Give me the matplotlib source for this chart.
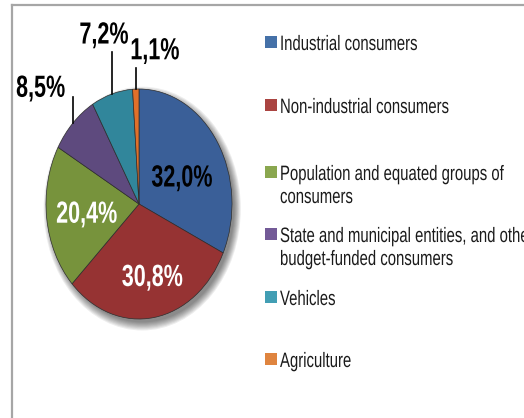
import matplotlib
matplotlib.use("Agg")
import matplotlib.pyplot as plt
from matplotlib.patches import Ellipse, Rectangle
from matplotlib.lines import Line2D
from matplotlib.font_manager import FontProperties
from matplotlib.patheffects import AbstractPathEffect
from matplotlib.transforms import Affine2D, ScaledTranslation, Bbox
from matplotlib.text import Text
import numpy as np

# ---- data ----
categories = ["Industrial consumers", "Non-industrial consumers",
              "Population and equated groups of consumers",
              "State and municipal entities, and other budget-funded consumers",
              "Vehicles", "Agriculture"]
legend_lines = [["Industrial consumers"], ["Non-industrial consumers"],
                ["Population and equated groups of", "consumers"],
                ["State and municipal entities, and othe", "budget-funded consumers"],
                ["Vehicles"], ["Agriculture"]]
values = [32.0, 30.8, 20.4, 8.5, 7.2, 1.1]
value_labels = ["32,0%", "30,8%", "20,4%", "8,5%", "7,2%", "1,1%"]

# ---- style ----
pie_colors = ["#3A5F98", "#963333", "#77933C", "#5E4A7E", "#31869B", "#E0702A"]
legend_colors = ["#4571A8", "#AA4441", "#8AA74F", "#735A97", "#429EB4", "#DF843F"]

fp_reg = FontProperties(family=["Liberation Sans", "DejaVu Sans"], weight="normal")
fp_bold = FontProperties(family=["Liberation Sans", "DejaVu Sans"], weight="bold")


class Squeeze(AbstractPathEffect):
    """Draw text horizontally condensed (narrow font look)."""

    def __init__(self, sx, anchor="left"):
        super().__init__()
        self.sx = sx
        self.anchor = anchor

    def draw_path(self, renderer, gc, tpath, affine, rgbFace=None):
        v = tpath.vertices
        x0 = 0.0
        if self.anchor == "center" and len(v):
            x0 = 0.5 * (v[:, 0].min() + v[:, 0].max())
        t = Affine2D().translate(-x0, 0).scale(self.sx, 1).translate(x0, 0)
        renderer.draw_path(gc, tpath, t + affine, rgbFace)


class NarrowText(Text):
    """Text drawn condensed; its reported extent matches the drawn glyphs."""

    def __init__(self, *args, sx=1.0, anchor="left", **kw):
        super().__init__(*args, **kw)
        self._sx = sx
        self._anchor = anchor
        self.set_path_effects([Squeeze(sx, anchor)])

    def get_window_extent(self, renderer=None, dpi=None):
        bb = super().get_window_extent(renderer, dpi)
        w = bb.width * self._sx
        if self._anchor == "center":
            cx = 0.5 * (bb.x0 + bb.x1)
            return Bbox([[cx - w / 2, bb.y0], [cx + w / 2, bb.y1]])
        return Bbox([[bb.x0, bb.y0], [bb.x0 + w, bb.y1]])


W, H = 524, 418
fig = plt.figure(figsize=(W / 100, H / 100), dpi=100)
fig.canvas.draw()
rend = fig.canvas.get_renderer()


def squeeze_factor(fp, size, sample, target_w):
    t = fig.text(0, 0, sample, fontproperties=fp, fontsize=size)
    wpx = t.get_window_extent(rend).width
    t.remove()
    return target_w / wpx


LEG_SIZE = 15.0
LAB_SIZE = 22.0
leg_sx = squeeze_factor(fp_reg, LEG_SIZE, "Industrial consumers", 138)
lab_sx = squeeze_factor(fp_bold, LAB_SIZE, "32,0%", 61)

# pie axes (elliptical, as in the reference)
ax = fig.add_axes([46 / W, (H - 319) / H, 186 / W, 230 / H])

# soft shadow
for s in np.linspace(1.06, 0.99, 8):
    ax.add_patch(Ellipse((0.035, -0.04), 2 * s, 2 * s, color="black",
                         alpha=0.07, lw=0, zorder=0, clip_on=False))

wedges, _ = ax.pie(values, colors=pie_colors, startangle=90, counterclock=False,
                   radius=1, wedgeprops=dict(edgecolor="#2e2e2e", linewidth=0.5))
for w in wedges:
    w.set_zorder(2)
    w.set_clip_on(False)
ax.set_aspect("auto")
ax.set_xlim(-1, 1)
ax.set_ylim(-1, 1)
ax.axis("off")

vals = np.array(values)
cum = np.cumsum(vals)
mid = np.deg2rad(90 - (cum - vals / 2) * 360 / vals.sum())

# label positions (axes data units, centre of the digits)
label_pos = [(0.462, 0.248), (0.145, -0.617), (-0.562, -0.067),
             (-1.056, 1.028), (-0.376, 1.491), (0.172, 1.354)]
label_col = ["black", "white", "white", "black", "black", "black"]
leader_top = {3: 0.930, 4: 1.322, 5: 1.183}

cap_off = ScaledTranslation(0, -0.36 * LAB_SIZE / 72, fig.dpi_scale_trans)
for i, (tx, ty) in enumerate(label_pos):
    ax.add_artist(NarrowText(tx, ty, value_labels[i], ha="center", va="baseline",
                             transform=ax.transData + cap_off,
                             fontproperties=fp_bold, fontsize=LAB_SIZE,
                             color=label_col[i], clip_on=False, zorder=5,
                             sx=lab_sx, anchor="center"))

for i, top in leader_top.items():
    x0, y0 = np.cos(mid[i]), np.sin(mid[i])
    ax.add_line(Line2D([x0, x0], [y0, top], color="black", lw=1.2,
                       zorder=4, clip_on=False))

# legend (manual, Excel-like spacing)
baselines = [[50], [113], [180, 203], [242, 265], [305], [367]]
for i, lines in enumerate(legend_lines):
    b0 = baselines[i][0]
    fig.add_artist(Rectangle((265 / W, 1 - (b0 - 2) / H), 12 / W, 12 / H,
                             transform=fig.transFigure, color=legend_colors[i], lw=0))
    for line, b in zip(lines, baselines[i]):
        fig.add_artist(NarrowText(280 / W, 1 - b / H, line, ha="left", va="baseline",
                                  transform=fig.transFigure,
                                  fontproperties=fp_reg, fontsize=LEG_SIZE,
                                  color="#1a1a1a", sx=leg_sx, anchor="left"))

# chart frame (top and left edges visible)
fig.add_artist(Line2D([12 / W, 1], [1 - 5 / H, 1 - 5 / H], transform=fig.transFigure,
                      color="#a6a6a6", lw=1.6))
fig.add_artist(Line2D([12 / W, 12 / W], [0, 1 - 5 / H], transform=fig.transFigure,
                      color="#a6a6a6", lw=1.6))

fig.savefig("out.png", dpi=100)
